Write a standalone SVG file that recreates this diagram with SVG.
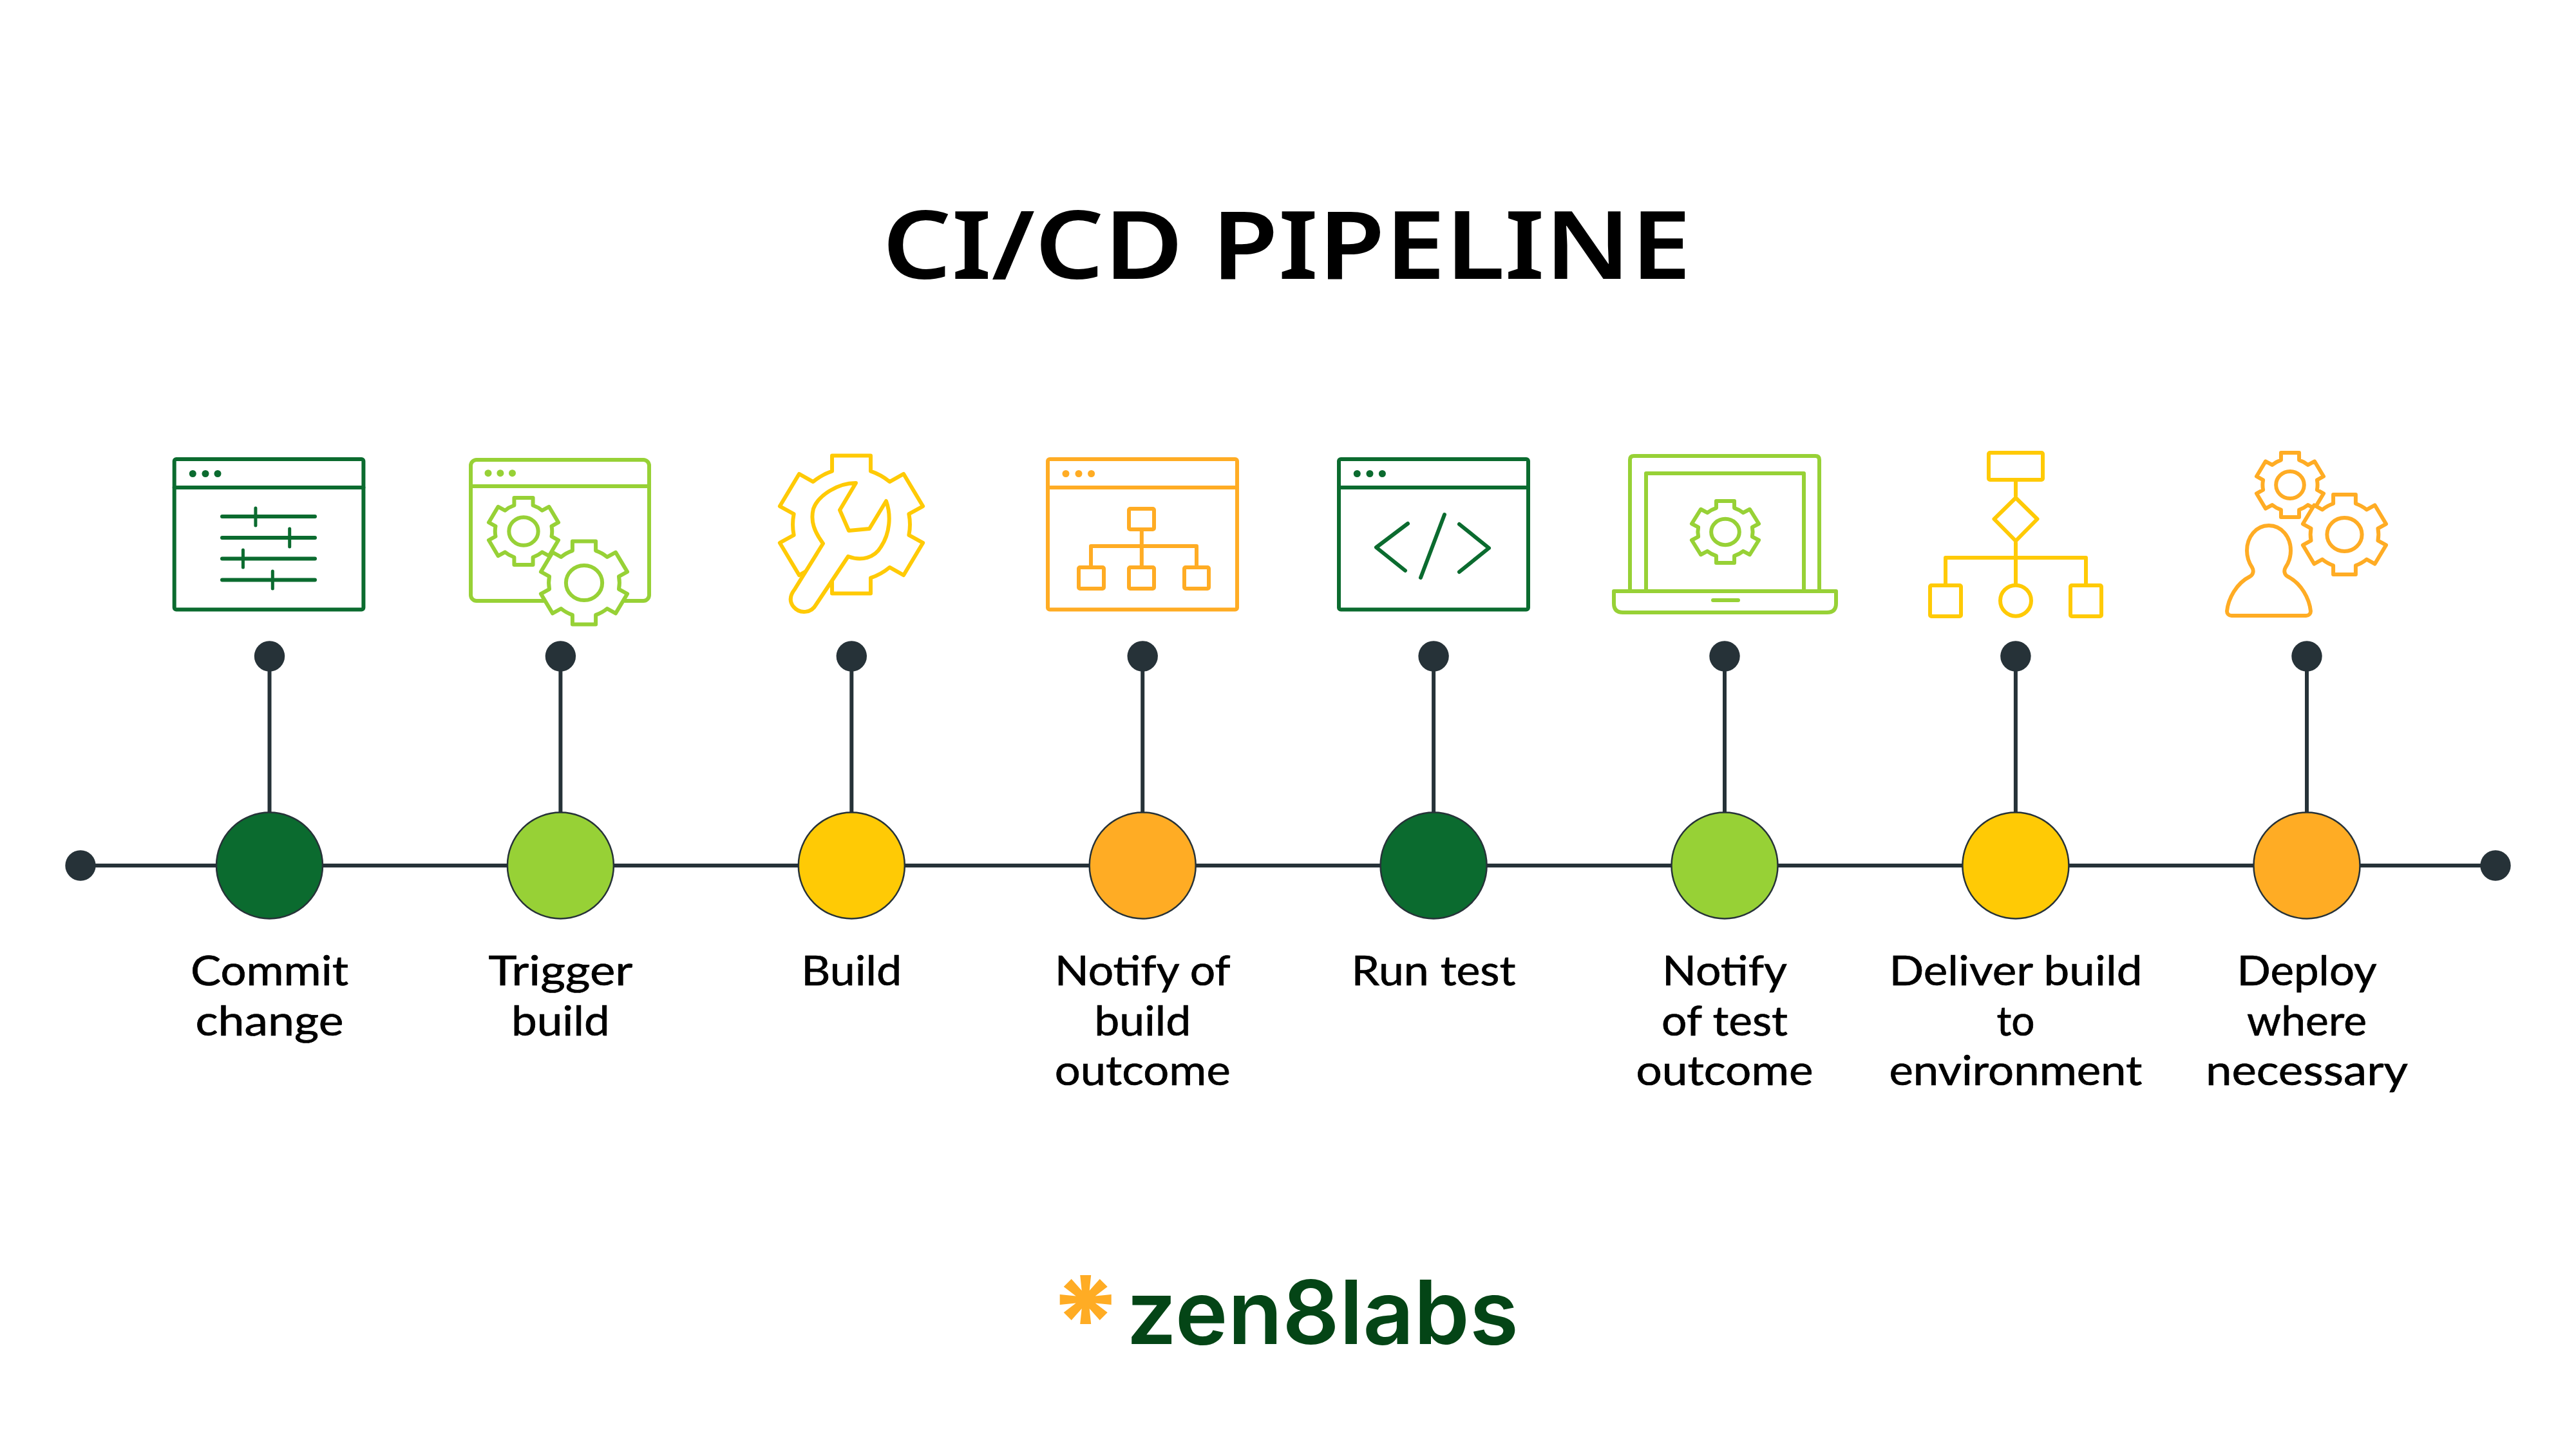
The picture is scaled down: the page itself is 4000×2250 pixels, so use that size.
<svg xmlns="http://www.w3.org/2000/svg" width="4000" height="2250" viewBox="0 0 4000 2250">
<style>
.ic{fill:none;stroke-width:6;stroke-linejoin:round;stroke-linecap:round}
.gear path,.gear circle{vector-effect:non-scaling-stroke}
.dg{stroke:#0b6b2f;color:#0b6b2f}.lm{stroke:#97d136;color:#97d136}.yl{stroke:#ffca05;color:#ffca05}.or{stroke:#ffac24;color:#ffac24}
.w{fill:#fff}
.dot{fill:currentColor;stroke:none}
.thin{stroke-width:5}
.conn{stroke:#263238;stroke-width:6;fill:none}
.end{fill:#263238}
.stage{stroke:#263238;stroke-width:2.5}
.lbl{font-family:"Lato","Liberation Sans",sans-serif;font-size:64px;fill:#000;stroke:#000;stroke-width:.7;text-anchor:middle}
.title{font-family:"Noto Sans","Liberation Sans",sans-serif;font-size:147px;font-weight:600;fill:#000}
.logo{font-family:"Inter","Liberation Sans",sans-serif;font-size:137px;font-weight:600;fill:#044516}
</style>
<defs>
<g id="gear" class="gear">
<path fill="#fff" d="M-27 -77.4V-100H27V-77.4A82 82 0 0 1 53.5 -62.1L73.1 -73.4L100.1 -26.6L80.5 -15.3A82 82 0 0 1 80.5 15.3L100.1 26.6L73.1 73.4L53.5 62.1A82 82 0 0 1 27 77.4V100H-27V77.4A82 82 0 0 1 -53.5 62.1L-73.1 73.4L-100.1 26.6L-80.5 15.3A82 82 0 0 1 -80.5 -15.3L-100.1 -26.6L-73.1 -73.4L-53.5 -62.1A82 82 0 0 1 -27 -77.4Z"/>
</g>
<g id="gearh" class="gear"><use href="#gear"/><circle r="42" fill="none"/></g>
</defs>

<text class="title" x="1998" y="432.700" text-anchor="middle" textLength="1256" lengthAdjust="spacingAndGlyphs">CI/CD PIPELINE</text>

<g id="connectors" class="conn">
<line x1="125" y1="1344" x2="3875" y2="1344"/>
<line x1="418.500" y1="1019" x2="418.500" y2="1344"/>
<line x1="870.400" y1="1019" x2="870.400" y2="1344"/>
<line x1="1322.300" y1="1019" x2="1322.300" y2="1344"/>
<line x1="1774.200" y1="1019" x2="1774.200" y2="1344"/>
<line x1="2226.100" y1="1019" x2="2226.100" y2="1344"/>
<line x1="2678" y1="1019" x2="2678" y2="1344"/>
<line x1="3129.900" y1="1019" x2="3129.900" y2="1344"/>
<line x1="3582" y1="1019" x2="3582" y2="1344"/>
</g>
<circle id="line-start" class="end" cx="125" cy="1344" r="23.700"/>
<circle id="line-end" class="end" cx="3875" cy="1344" r="23.700"/>

<g id="node-commit">
<g class="ic dg">
<rect x="270.700" y="713" width="293.700" height="233.500" rx="3"/>
<line x1="270.700" y1="757" x2="564.400" y2="757"/>
<circle class="dot" cx="299.300" cy="735.500" r="5.500"/><circle class="dot" cx="319" cy="735.500" r="5.500"/><circle class="dot" cx="338" cy="735.500" r="5.500"/>
<path d="M345 802H489M345 835H489M345 867.500H489M345 900.500H489"/>
<path class="thin" d="M396.900 789V816M449.700 821V849M377.400 854V881M423.300 887V914"/>
</g>
<circle class="end" cx="418.500" cy="1019" r="23.700"/>
<circle class="stage" cx="418.500" cy="1344" r="82.500" fill="#0b6b2f"/>
<text class="lbl" x="418.500" y="1530" textLength="245" lengthAdjust="spacingAndGlyphs">Commit</text>
<text class="lbl" x="418.500" y="1608" textLength="230" lengthAdjust="spacingAndGlyphs">change</text>
</g>

<g id="node-trigger">
<g class="ic lm">
<rect x="731" y="714" width="277" height="219" rx="9"/>
<line x1="731" y1="755" x2="1008" y2="755"/>
<circle class="dot" cx="758" cy="734.700" r="5.500"/><circle class="dot" cx="776.900" cy="734.700" r="5.500"/><circle class="dot" cx="795.500" cy="734.700" r="5.500"/>
<use href="#gearh" transform="translate(813 825) scale(.54 .52)"/>
<use href="#gearh" transform="translate(907 905) scale(.67 .645)"/>
</g>
<circle class="end" cx="870.400" cy="1019" r="23.700"/>
<circle class="stage" cx="870.400" cy="1344" r="82.500" fill="#97d136"/>
<text class="lbl" x="870.400" y="1530" textLength="224" lengthAdjust="spacingAndGlyphs">Trigger</text>
<text class="lbl" x="870.400" y="1608" textLength="153" lengthAdjust="spacingAndGlyphs">build</text>
</g>

<g id="node-build">
<g class="ic yl">
<use href="#gear" transform="translate(1322 814.500) scale(1.11 1.07)"/>
<path class="w" d="M1329 750L1304 792L1318 824L1350 821L1376 778C1384 800 1382 828 1368 849C1358 866 1338 872 1317 864L1267 939C1260 952 1242 954 1232 942C1225 933 1227 924 1234 915L1278 844C1265 826 1258 810 1263 790C1270 770 1300 750 1329 750Z"/>
</g>
<circle class="end" cx="1322.300" cy="1019" r="23.700"/>
<circle class="stage" cx="1322.300" cy="1344" r="82.500" fill="#ffca05"/>
<text class="lbl" x="1322.300" y="1530" textLength="156" lengthAdjust="spacingAndGlyphs">Build</text>
</g>

<g id="node-notify-build">
<g class="ic or">
<rect x="1627" y="713" width="294" height="233.500" rx="3"/>
<line x1="1627" y1="757" x2="1921" y2="757"/>
<circle class="dot" cx="1655" cy="735.500" r="5.500"/><circle class="dot" cx="1675" cy="735.500" r="5.500"/><circle class="dot" cx="1694.600" cy="735.500" r="5.500"/>
<rect x="1753" y="790" width="39" height="32" rx="2"/>
<path d="M1772.800 825V881M1694 881V848H1858V881"/>
<rect x="1675" y="881" width="39" height="33" rx="2"/>
<rect x="1753" y="881" width="39" height="33" rx="2"/>
<rect x="1839" y="881" width="38" height="33" rx="2"/>
</g>
<circle class="end" cx="1774.200" cy="1019" r="23.700"/>
<circle class="stage" cx="1774.200" cy="1344" r="82.500" fill="#ffac24"/>
<text class="lbl" x="1774.200" y="1530" textLength="273" lengthAdjust="spacingAndGlyphs">Notify of</text>
<text class="lbl" x="1774.200" y="1608" textLength="150" lengthAdjust="spacingAndGlyphs">build</text>
<text class="lbl" x="1774.200" y="1685" textLength="273" lengthAdjust="spacingAndGlyphs">outcome</text>
</g>

<g id="node-run-test">
<g class="ic dg">
<rect x="2079" y="713" width="294" height="233.500" rx="3"/>
<line x1="2079" y1="757" x2="2373" y2="757"/>
<circle class="dot" cx="2107.300" cy="735.500" r="5.500"/><circle class="dot" cx="2127" cy="735.500" r="5.500"/><circle class="dot" cx="2146.400" cy="735.500" r="5.500"/>
<path d="M2186 813L2137 850L2182 886M2243 799L2206 897M2266 814L2312 851L2266 888"/>
</g>
<circle class="end" cx="2226.100" cy="1019" r="23.700"/>
<circle class="stage" cx="2226.100" cy="1344" r="82.500" fill="#0b6b2f"/>
<text class="lbl" x="2226.100" y="1530" textLength="255" lengthAdjust="spacingAndGlyphs">Run test</text>
</g>

<g id="node-notify-test">
<g class="ic lm">
<path d="M2531 915V714Q2531 708 2537 708H2819Q2825 708 2825 714V915"/>
<path d="M2556 915V735H2801V915"/>
<path d="M2506 918H2851V937Q2851 951 2837 951H2520Q2506 951 2506 937Z"/>
<line x1="2660" y1="932" x2="2699" y2="932"/>
<use href="#gearh" transform="translate(2679 826) scale(.52 .48)"/>
</g>
<circle class="end" cx="2678" cy="1019" r="23.700"/>
<circle class="stage" cx="2678" cy="1344" r="82.500" fill="#97d136"/>
<text class="lbl" x="2678" y="1530" textLength="194" lengthAdjust="spacingAndGlyphs">Notify</text>
<text class="lbl" x="2678" y="1608" textLength="196" lengthAdjust="spacingAndGlyphs">of test</text>
<text class="lbl" x="2678" y="1685" textLength="275" lengthAdjust="spacingAndGlyphs">outcome</text>
</g>

<g id="node-deliver">
<g class="ic yl">
<rect x="3088" y="703" width="84" height="42" rx="2"/>
<polygon points="3130,773 3163.500,806 3130,840 3096.500,806"/>
<path d="M3130 748V770M3130 843V908M3021 908V866H3239V908"/>
<rect x="2997" y="909" width="48" height="48" rx="2"/>
<circle cx="3130" cy="932.700" r="24"/>
<rect x="3215" y="909" width="48" height="48" rx="2"/>
</g>
<circle class="end" cx="3129.900" cy="1019" r="23.700"/>
<circle class="stage" cx="3129.900" cy="1344" r="82.500" fill="#ffca05"/>
<text class="lbl" x="3129.900" y="1530" textLength="393" lengthAdjust="spacingAndGlyphs">Deliver build</text>
<text class="lbl" x="3129.900" y="1608" textLength="59" lengthAdjust="spacingAndGlyphs">to</text>
<text class="lbl" x="3129.900" y="1685" textLength="393" lengthAdjust="spacingAndGlyphs">environment</text>
</g>

<g id="node-deploy">
<g class="ic or">
<path d="M3523 816C3503 816 3489 834 3489 855C3489 867 3493 875 3497 881C3500 886 3499 892 3494 895C3472 906 3460 930 3458 949C3458 953 3461 956 3465 956L3581 956C3585 956 3588 953 3588 949C3586 930 3574 906 3552 895C3547 892 3546 886 3549 881C3553 875 3557 867 3557 855C3557 834 3543 816 3523 816Z"/>
<use href="#gearh" transform="translate(3556 753) scale(.52 .5)"/>
<use href="#gearh" transform="translate(3640.500 830) scale(.645 .62)"/>
</g>
<circle class="end" cx="3582" cy="1019" r="23.700"/>
<circle class="stage" cx="3582" cy="1344" r="82.500" fill="#ffac24"/>
<text class="lbl" x="3582" y="1530" textLength="217" lengthAdjust="spacingAndGlyphs">Deploy</text>
<text class="lbl" x="3582" y="1608" textLength="186" lengthAdjust="spacingAndGlyphs">where</text>
<text class="lbl" x="3582" y="1685" textLength="314" lengthAdjust="spacingAndGlyphs">necessary</text>
</g>

<g id="logo">
<polygon fill="#ffac24" transform="translate(1685.700 2018)" points="-8.500,-38 8.500,-38 6,-14 22,-32 34,-20 15,-5.500 40,-8 40,8 15,5.500 34,20 22,32 6,14 8.500,38 -8.500,38 -6,14 -22,32 -34,20 -15,5.500 -40,8 -40,-8 -15,-5.500 -34,-20 -22,-32 -6,-14"/>
<text class="logo" x="1749" y="2087" textLength="609" lengthAdjust="spacingAndGlyphs">zen8labs</text>
</g>
</svg>
